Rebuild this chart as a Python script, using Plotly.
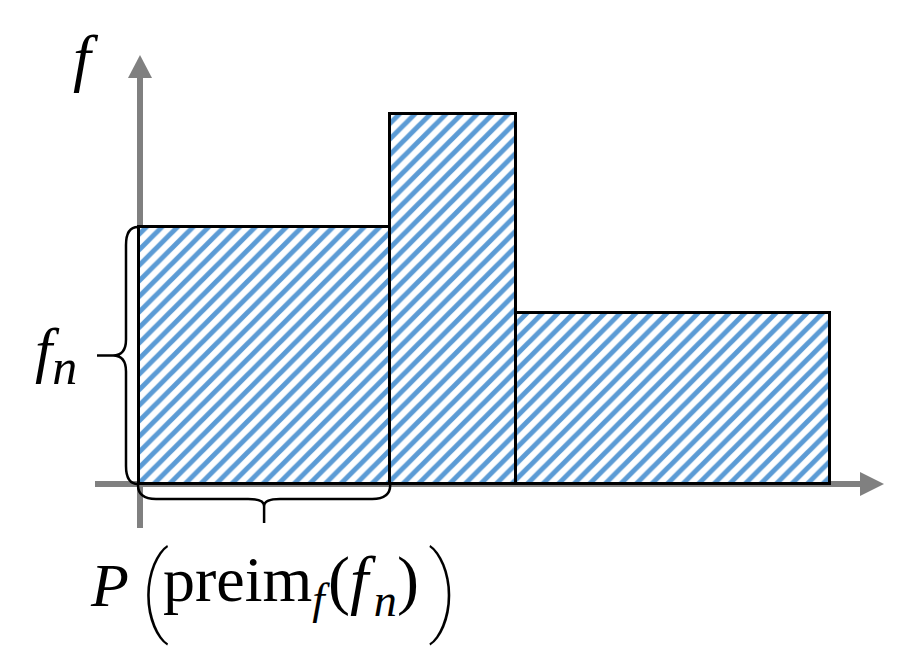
import plotly.graph_objects as go
import numpy as np

# ---- data (conceptual step function) ----
bar_widths = [2.0, 1.0, 2.5]      # measure of each preimage piece
bar_heights = [2.0, 2.88, 1.33]   # value f_n of each step
y_axis_label = "<i>f</i>"
level_label = "<i>f</i><sub><span style=\"font-size:50px\"><i>n</i></span></sub>"
measure_label_left = "<i>P</i>"
measure_label_mid = "preim<sub><i>f</i></sub>"
measure_label_arg = "(<i>f</i>\u200a<sub><i>n</i></sub>)"

# ---- geometry helpers (pixel <-> data) ----
W, H = 909, 658
OX, OY = 139, 484          # pixel position of data origin
XS, YS = 125.6, 128.5      # pixels per data unit

def X(px):
    return (px - OX) / XS

def Y(py):
    return (OY - py) / YS

def PX(x):
    return OX + x * XS

def PY(y):
    return OY - y * YS

lefts = np.concatenate([[0.0], np.cumsum(bar_widths)[:-1]])
centers = lefts + np.array(bar_widths) / 2

fig = go.Figure()
fig.add_trace(go.Bar(
    x=centers, y=bar_heights, width=bar_widths, base=0,
    marker=dict(
        color="white",
        line=dict(color="black", width=3),
        pattern=dict(shape="/", fgcolor="#5b9bd5", bgcolor="white",
                     fgopacity=1, fillmode="replace",
                     size=11, solidity=0.45),
    ),
    hoverinfo="skip", showlegend=False,
))

GRAY = "#808080"
shapes = []
# axes (drawn below the bars)
shapes.append(dict(type="rect", xref="x", yref="y", layer="below",
                   x0=X(137), x1=X(143), y0=Y(528), y1=Y(78),
                   fillcolor=GRAY, line=dict(width=0)))
shapes.append(dict(type="path", xref="x", yref="y", layer="below",
                   path=f"M {X(128)},{Y(78)} L {X(152)},{Y(78)} L {X(140)},{Y(55)} Z",
                   fillcolor=GRAY, line=dict(width=0)))
shapes.append(dict(type="rect", xref="x", yref="y", layer="below",
                   x0=X(95), x1=X(861), y0=Y(487), y1=Y(481),
                   fillcolor=GRAY, line=dict(width=0)))
shapes.append(dict(type="path", xref="x", yref="y", layer="below",
                   path=f"M {X(860)},{Y(472)} L {X(860)},{Y(496)} L {X(884)},{Y(484)} Z",
                   fillcolor=GRAY, line=dict(width=0)))

def pt(px, py):
    return f"{X(px)},{Y(py)}"

# left brace spanning the first bar's height
x0 = PX(lefts[0]) - 1
ytop, ybot = PY(bar_heights[0]), PY(0)
ymid = (ytop + ybot) / 2
xs, xj, xt = x0 - 12, x0 - 25, x0 - 41
lb = (f"M {pt(x0, ytop)} Q {pt(xs, ytop)} {pt(xs, ytop + 18)} "
      f"L {pt(xs, ymid - 16)} Q {pt(xs, ymid)} {pt(xj, ymid)} L {pt(xt, ymid)} "
      f"M {pt(xj, ymid)} Q {pt(xs, ymid)} {pt(xs, ymid + 16)} "
      f"L {pt(xs, ybot - 18)} Q {pt(xs, ybot)} {pt(x0, ybot)}")
shapes.append(dict(type="path", xref="x", yref="y", layer="above", path=lb,
                   line=dict(color="black", width=2.5)))

# bottom brace spanning the first bar's width
bx0, bx1 = PX(lefts[0]) - 1, PX(lefts[0] + bar_widths[0])
by0 = PY(0) + 1
bys, byj, byt = by0 + 14, by0 + 21, by0 + 38
bxm = (bx0 + bx1) / 2
bb = (f"M {pt(bx0, by0)} Q {pt(bx0, bys)} {pt(bx0 + 18, bys)} "
      f"L {pt(bxm - 16, bys)} Q {pt(bxm, bys)} {pt(bxm, byj)} L {pt(bxm, byt)} "
      f"M {pt(bxm, byj)} Q {pt(bxm, bys)} {pt(bxm + 16, bys)} "
      f"L {pt(bx1 - 18, bys)} Q {pt(bx1, bys)} {pt(bx1, by0)}")
shapes.append(dict(type="path", xref="x", yref="y", layer="above", path=bb,
                   line=dict(color="black", width=2.5)))

FONT = "Liberation Serif"
ann = []
ann.append(dict(x=X(86), y=Y(57), text=y_axis_label, showarrow=False,
                xanchor="center", yanchor="middle",
                font=dict(family=FONT, size=64, color="black")))
ann.append(dict(x=X(33), y=Y(355), text=level_label, showarrow=False,
                xanchor="left", yanchor="middle",
                font=dict(family=FONT, size=62, color="black")))
ann.append(dict(x=X(88), y=Y(585), text=measure_label_left, showarrow=False,
                xanchor="left", yanchor="middle",
                font=dict(family=FONT, size=62, color="black")))
ann.append(dict(x=X(154), y=Y(589), text="(", showarrow=False,
                xanchor="center", yanchor="middle",
                font=dict(family="Roboto", size=99, color="black", weight=100)))
ann.append(dict(x=X(161), y=Y(584), text=measure_label_mid, showarrow=False,
                xanchor="left", yanchor="middle",
                font=dict(family=FONT, size=64, color="black")))
ann.append(dict(x=X(326), y=Y(584), text=measure_label_arg, showarrow=False,
                xanchor="left", yanchor="middle",
                font=dict(family=FONT, size=66, color="black")))
ann.append(dict(x=X(443), y=Y(589), text=")", showarrow=False,
                xanchor="center", yanchor="middle",
                font=dict(family="Roboto", size=99, color="black", weight=100)))

fig.update_layout(
    width=W, height=H, margin=dict(l=0, r=0, t=0, b=0),
    paper_bgcolor="white", plot_bgcolor="white",
    xaxis=dict(range=[X(0), X(W)], visible=False, fixedrange=True),
    yaxis=dict(range=[Y(H), Y(0)], visible=False, fixedrange=True),
    shapes=shapes, annotations=ann, showlegend=False, bargap=0,
)

fig.write_html("out.html", config={"displayModeBar": False},
               post_script="document.body.style.margin='0px';")
